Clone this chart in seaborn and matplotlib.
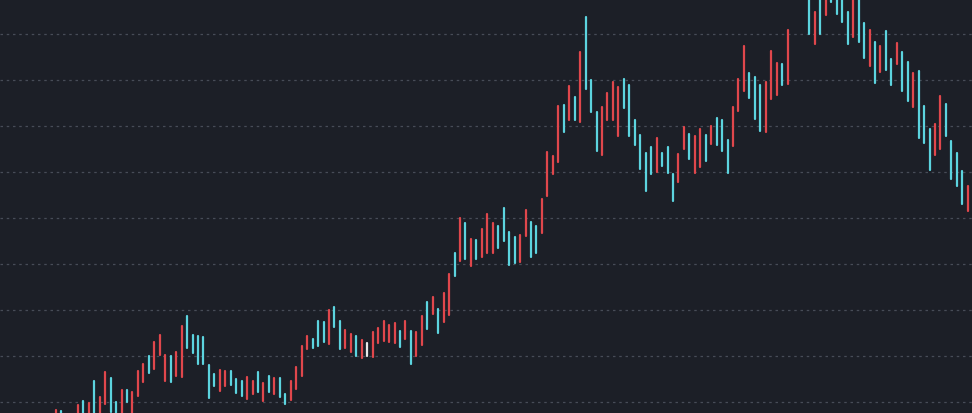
import numpy as np
import pandas as pd
import seaborn as sns
import matplotlib.pyplot as plt

# Range of each session (high / low), left to right
highs = [18.3, 18.1, 16.5, 17.0, 19.4, 20.2, 19.8, 24.6, 21.1, 26.5,
         25.2, 20.1, 22.7, 22.7, 22.2, 26.8, 28.3, 30.0, 33.0, 34.6,
         30.2, 30.1, 30.9, 36.6, 38.7, 34.6, 34.3, 34.1, 28.0, 26.1,
         27.0, 26.8, 26.8, 25.0, 24.6, 25.5, 24.6, 26.5, 24.1, 25.7,
         25.2, 25.2, 21.7, 24.6, 27.6, 32.2, 34.3, 33.7, 37.7, 37.3,
         39.9, 40.6, 37.7, 35.7, 34.8, 34.4, 33.5, 32.8, 35.2, 36.0,
         37.7, 36.7, 37.2, 35.5, 37.7, 35.5, 35.3, 38.6, 41.8, 42.9,
         40.2, 43.8, 47.8, 52.4, 59.9, 58.9, 55.4, 55.3, 57.6, 60.9,
         58.9, 58.2, 62.1, 57.0, 55.8, 56.2, 61.8, 59.2, 58.2, 64.1,
         74.4, 73.5, 84.3, 84.6, 88.8, 86.2, 96.0, 103.8, 89.9, 83.1,
         84.1, 87.2, 89.6, 88.4, 90.2, 88.9, 81.2, 78.0, 74.1, 75.4,
         77.3, 74.1, 75.4, 69.6, 73.9, 79.7, 78.3, 77.9, 79.4, 78.0,
         79.9, 81.7, 81.2, 77.0, 84.1, 90.2, 97.3, 91.5, 90.6, 88.9,
         89.5, 96.4, 93.7, 93.5, 100.9, 112.0, 114.0, 113.0, 112.0, 104.7,
         111.0, 111.0, 112.0, 111.0, 109.0, 104.7, 109.0, 108.5, 102.5, 100.9,
         98.3, 97.3, 100.7, 94.6, 98.0, 96.0, 94.0, 91.5, 92.0, 84.3,
         79.4, 80.4, 86.5, 84.8, 76.8, 74.1, 70.3, 67.0]
lows = [15.2, 14.1, 13.5, 14.5, 14.1, 15.2, 15.2, 16.3, 16.3, 19.6,
        17.9, 16.3, 17.6, 20.0, 16.3, 21.3, 24.4, 26.3, 27.2, 30.2,
        24.6, 24.4, 25.7, 25.4, 31.7, 30.7, 28.3, 28.3, 20.9, 23.5,
        22.5, 23.5, 23.7, 22.0, 21.4, 20.7, 21.7, 22.2, 20.3, 22.2,
        21.7, 21.1, 19.6, 20.5, 22.8, 25.7, 31.5, 31.7, 32.2, 33.0,
        32.6, 36.2, 31.5, 31.7, 30.9, 29.9, 29.5, 30.1, 29.7, 32.8,
        33.3, 33.0, 32.8, 31.9, 33.7, 28.3, 29.9, 32.4, 35.9, 39.1,
        34.9, 37.5, 38.9, 47.3, 50.7, 51.1, 49.6, 51.1, 51.5, 52.4,
        52.5, 53.4, 54.9, 49.8, 50.2, 50.5, 56.0, 51.5, 52.4, 56.7,
        64.7, 69.6, 72.1, 78.6, 81.4, 81.2, 80.8, 88.0, 83.0, 74.6,
        73.7, 81.2, 81.4, 77.9, 83.9, 77.8, 75.9, 70.7, 65.9, 69.6,
        69.9, 71.2, 69.8, 63.8, 67.9, 74.9, 72.8, 69.8, 71.0, 72.5,
        76.1, 75.9, 74.6, 69.8, 75.7, 83.3, 87.7, 86.0, 81.5, 79.0,
        78.8, 85.9, 86.7, 88.9, 89.1, 108.5, 109.0, 108.2, 100.0, 97.8,
        100.0, 104.1, 107.0, 104.4, 102.7, 97.8, 99.3, 98.3, 94.7, 93.1,
        89.4, 91.7, 92.2, 88.9, 93.5, 87.7, 85.5, 84.1, 77.3, 76.3,
        70.5, 73.7, 75.0, 77.8, 68.5, 67.0, 63.0, 61.6]
# R = rising (red), C = falling (cyan), W = unchanged; ten sessions per chunk
moves = "".join([
    "RCCRRCRCRR", "CCRCRRRCRR", "RCRRCCCCCC", "RRCCCRRCRC",
    "RCCRRRRCCC", "RCCRRCRWRR", "RRRCRCRRCR", "CRRCRCRCRR",
    "RCCCCRRCCR", "RRRCRCRCCC", "RRRRCCCCCC", "RCCCRRCRRC",
    "RCCCRRRCCC", "RRRCRRCRCR", "CRCCCCRCCR", "CRCCRCCRCC",
    "CRRCCCCR",
])

direction_names = {"R": "up", "C": "down", "W": "flat"}
palette = {"up": "#e0474c", "down": "#5cd4df", "flat": "#e8e8e8"}

bars = pd.DataFrame({
    "session": np.arange(len(highs)),
    "high": highs,
    "low": lows,
    "move": [direction_names[m] for m in moves],
})
long_df = bars.melt(id_vars=["session", "move"], value_vars=["high", "low"],
                    value_name="price")

bg = "#1c1f27"
sns.set_theme(style="dark", rc={"axes.facecolor": bg, "figure.facecolor": bg})

fig = plt.figure(figsize=(9.72, 4.14), dpi=100)
ax = fig.add_axes([0, 0, 1, 1])

sns.lineplot(data=long_df, x="session", y="price", units="session",
             hue="move", palette=palette, estimator=None, sort=False,
             linewidth=1.6, legend=False, ax=ax)

ax.set_xlim(-10.26, 167.77)
ax.set_ylim(17.61, 107.61)
ax.set_yticks(np.arange(20, 101, 10))
ax.yaxis.grid(True, color="#474c57", linewidth=0.9, linestyle=(0, (2, 3)))
ax.xaxis.grid(False)
ax.set_axisbelow(True)
ax.tick_params(left=False, bottom=False, labelleft=False, labelbottom=False)
ax.set_xlabel("")
ax.set_ylabel("")
for s in ax.spines.values():
    s.set_visible(False)

fig.savefig("out.png", dpi=100, facecolor=bg)
